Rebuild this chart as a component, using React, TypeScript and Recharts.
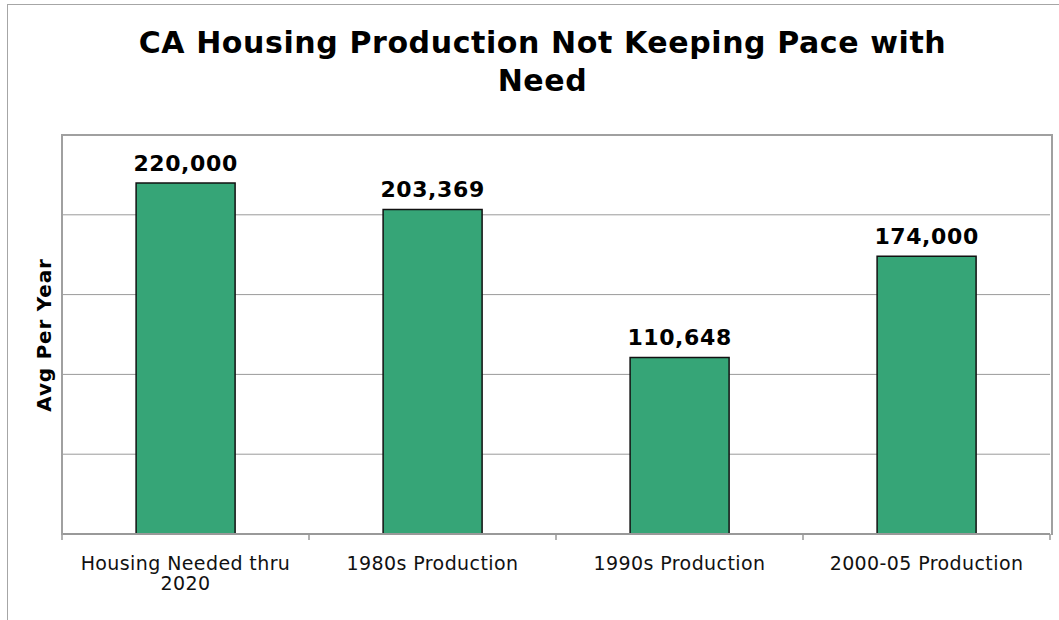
import { BarChart, Bar, XAxis, YAxis, CartesianGrid, LabelList } from 'recharts';

const categories = ['Housing Needed thru 2020', '1980s Production', '1990s Production', '2000-05 Production'];
const avgPerYear = [220000, 203369, 110648, 174000];
const yTicks = [0, 50000, 100000, 150000, 200000, 250000];

const data = categories.map((name, i) => ({ name, value: avgPerYear[i] }));

const FONT = '"DejaVu Sans", Verdana, sans-serif';
const W = 1059;
const H = 620;
const M = { top: 135, right: 9, left: 62, bottom: 46 };
const HALF_BAND = (W - M.left - M.right) / categories.length / 2;

// two-line wrap for the long category name, plus boundary tick marks
function CategoryTick(props: any) {
  const { x, y, payload, index } = props;
  const words = String(payload.value).split(' ');
  const lines = words.length > 3 ? [words.slice(0, 3).join(' '), words.slice(3).join(' ')] : [payload.value];
  return (
    <g>
      <line x1={x - HALF_BAND} x2={x - HALF_BAND} y1={y - 8} y2={y - 2} stroke="#999" strokeWidth={1.5} />
      {index === categories.length - 1 && (
        <line x1={x + HALF_BAND} x2={x + HALF_BAND} y1={y - 8} y2={y - 2} stroke="#999" strokeWidth={1.5} />
      )}
      {lines.map((l, i) => (
        <text key={i} x={x} y={y + 28 + i * 20} textAnchor="middle" fontFamily={FONT} fontSize={19} letterSpacing={0.4} fill="#111">
          {l}
        </text>
      ))}
    </g>
  );
}

export default function App() {
  return (
    <div style={{ position: 'absolute', left: 0, top: 0, width: W, height: H, background: '#fff', fontFamily: FONT }}>
      {/* outer frame, clipped by the picture on the right and bottom */}
      <div style={{ position: 'absolute', left: 7, top: 4, width: W, height: H, borderLeft: '1.5px solid #a6a6a6', borderTop: '1.5px solid #a6a6a6' }} />
      <div style={{ position: 'absolute', left: 0, top: 24, width: 1085, textAlign: 'center', fontWeight: 'bold', fontSize: 30, letterSpacing: 0.6, lineHeight: '38px', color: '#000' }}>
        CA Housing Production Not Keeping Pace with
        <br />
        Need
      </div>
      <div
        style={{
          position: 'absolute',
          left: 44,
          top: 335,
          transform: 'translate(-50%, -50%) rotate(-90deg)',
          whiteSpace: 'nowrap',
          fontWeight: 'bold',
          fontSize: 20,
          letterSpacing: 0.8,
          color: '#000',
        }}
      >
        Avg Per Year
      </div>
      <div style={{ position: 'absolute', left: 0, top: 0 }}>
        <BarChart width={W} height={H} data={data} margin={M} barCategoryGap="30%">
          <CartesianGrid vertical={false} stroke="#9a9a9a" strokeWidth={1} />
          <XAxis
            dataKey="name"
            height={40}
            interval={0}
            tickLine={false}
            axisLine={{ stroke: '#999', strokeWidth: 2 }}
            tick={<CategoryTick />}
          />
          <YAxis
            domain={[0, 250000]}
            ticks={yTicks}
            interval={0}
            width={0}
            tick={{ fill: 'transparent', fontSize: 1 }}
            tickLine={false}
            axisLine={false}
          />
          <Bar dataKey="value" fill="#36A577" stroke="#111" strokeWidth={1.5} isAnimationActive={false}>
            <LabelList
              dataKey="value"
              position="top"
              offset={12}
              formatter={(v: any) => Number(v).toLocaleString('en-US')}
              style={{ fontFamily: FONT, fontSize: 22, letterSpacing: 0.6, fontWeight: 'bold', fill: '#000' }}
            />
          </Bar>
        </BarChart>
      </div>
      {/* plot area border */}
      <div
        style={{
          position: 'absolute',
          left: M.left - 1,
          top: M.top - 1,
          width: W - M.left - M.right,
          height: H - M.top - M.bottom - 40,
          border: '2px solid #a0a0a0',
          borderBottom: 'none',
          pointerEvents: 'none',
        }}
      />
    </div>
  );
}
